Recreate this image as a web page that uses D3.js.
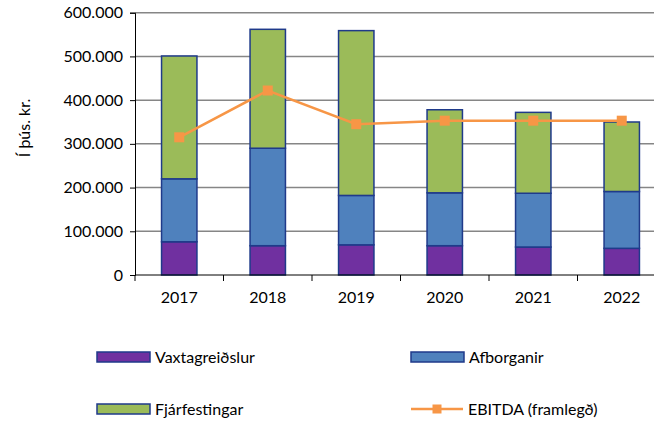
<!DOCTYPE html>
<html>
<head>
<meta charset="utf-8">
<script src="https://cdn.jsdelivr.net/npm/d3@7"></script>
<style>
  body { margin: 0; background: #fff; }
  text { font-family: Lato, "Open Sans", sans-serif; fill: #000; }
</style>
</head>
<body>
<div id="chart"></div>
<script>
// data (þús. kr.)
const years = ['2017', '2018', '2019', '2020', '2021', '2022'];
const vaxtagreidslur = [76000, 67000, 69000, 67000, 64000, 61000];
const afborganir = [144000, 223000, 113000, 121000, 123000, 130000];
const fjarfestingar = [281000, 272000, 377000, 190000, 185000, 159000];
const ebitda = [315000, 422000, 345000, 353000, 353000, 353000];
const yTicks = [0, 100000, 200000, 300000, 400000, 500000, 600000];

const seriesNames = ['Vaxtagreiðslur', 'Afborganir', 'Fjárfestingar'];
const colors = ['#7030A0', '#4F81BD', '#9BBB59'];
const edge = '#1F3A8A';
const orange = '#F79646';

const w = 654, h = 422;
const plotL = 135, plotR = 666, plotT = 12.7, plotB = 275;

const svg = d3.select('#chart').append('svg')
  .attr('width', w).attr('height', h);

const xScale = d3.scaleBand().domain(years).range([plotL, plotR]).paddingInner(0.6).paddingOuter(0.3);
const yScale = d3.scaleLinear().domain([0, 600000]).range([plotB, plotT]);

const fmt = v => v === 0 ? '0' : d3.format(',')(v).replace(/,/g, '.');

// gridlines
svg.append('g').selectAll('line')
  .data(yTicks.filter(d => d > 0))
  .enter().append('line')
  .attr('x1', plotL).attr('x2', plotR)
  .attr('y1', d => yScale(d)).attr('y2', d => yScale(d))
  .style('stroke', '#868686').style('stroke-width', 1.5);

// stacked bars
const table = years.map((y, i) => ({
  year: y,
  Vaxtagreiðslur: vaxtagreidslur[i],
  Afborganir: afborganir[i],
  Fjárfestingar: fjarfestingar[i]
}));
const stack = d3.stack().keys(seriesNames)(table);

svg.append('g').selectAll('g')
  .data(stack)
  .enter().append('g')
  .style('fill', (d, i) => colors[i])
  .selectAll('rect')
  .data(d => d)
  .enter().append('rect')
  .attr('x', d => xScale(d.data.year))
  .attr('width', xScale.bandwidth())
  .attr('y', d => yScale(d[1]))
  .attr('height', d => yScale(d[0]) - yScale(d[1]))
  .style('stroke', edge).style('stroke-width', 1.5);

// axes
const yAxis = d3.axisLeft(yScale).tickValues(yTicks).tickFormat(fmt).tickSize(5).tickPadding(7);
const yG = svg.append('g').attr('transform', `translate(${plotL},0)`).call(yAxis);
yG.select('.domain').style('stroke', '#000').style('stroke-width', 1);
yG.selectAll('.tick line').style('stroke', '#000');
yG.selectAll('text').style('font-size', '16px').style('font-family', 'Lato, sans-serif');

const xG = svg.append('g').attr('transform', `translate(0,${plotB})`);
xG.append('line').attr('x1', plotL).attr('x2', plotR).attr('y1', 0).attr('y2', 0)
  .style('stroke', '#000').style('stroke-width', 1);
const step = xScale.step();
const bandStart = xScale(years[0]) - xScale.paddingOuter() * step;
xG.selectAll('.xtick')
  .data(d3.range(years.length + 1))
  .enter().append('line')
  .attr('x1', i => bandStart + i * step).attr('x2', i => bandStart + i * step)
  .attr('y1', 0).attr('y2', 6)
  .style('stroke', '#000');
xG.selectAll('.xlabel')
  .data(years)
  .enter().append('text')
  .attr('x', d => xScale(d) + xScale.bandwidth() / 2)
  .attr('y', 28)
  .attr('text-anchor', 'middle')
  .style('font-size', '16px')
  .text(d => d);

// EBITDA line
const line = d3.line()
  .x((d, i) => xScale(years[i]) + xScale.bandwidth() / 2)
  .y(d => yScale(d));
svg.append('path').datum(ebitda)
  .attr('d', line)
  .style('fill', 'none').style('stroke', orange).style('stroke-width', 2.5);
svg.append('g').selectAll('rect')
  .data(ebitda)
  .enter().append('rect')
  .attr('x', (d, i) => xScale(years[i]) + xScale.bandwidth() / 2 - 5)
  .attr('y', d => yScale(d) - 5)
  .attr('width', 10).attr('height', 10)
  .style('fill', orange);

// y title
svg.append('text')
  .attr('transform', 'translate(30,128) rotate(-90)')
  .attr('text-anchor', 'middle')
  .style('font-size', '16px')
  .text('Í þús. kr.');

// legend
const legendItems = [
  { name: 'Vaxtagreiðslur', x: 97, y: 357, type: 'bar', color: colors[0] },
  { name: 'Afborganir', x: 411, y: 357, type: 'bar', color: colors[1] },
  { name: 'Fjárfestingar', x: 97, y: 409, type: 'bar', color: colors[2] },
  { name: 'EBITDA (framlegð)', x: 411, y: 409, type: 'line', color: orange }
];
const legend = svg.append('g').selectAll('g')
  .data(legendItems)
  .enter().append('g')
  .attr('transform', d => `translate(${d.x},${d.y})`);
legend.filter(d => d.type === 'bar').append('rect')
  .attr('x', 0).attr('y', -5).attr('width', 53).attr('height', 10)
  .style('fill', d => d.color).style('stroke', edge).style('stroke-width', 1.5);
legend.filter(d => d.type === 'line').append('line')
  .attr('x1', 0).attr('x2', 52).attr('y1', 0).attr('y2', 0)
  .style('stroke', orange).style('stroke-width', 2.5);
legend.filter(d => d.type === 'line').append('rect')
  .attr('x', 21.5).attr('y', -4.5).attr('width', 9).attr('height', 9)
  .style('fill', orange);
legend.append('text')
  .attr('x', d => d.type === 'line' ? 57 : 58).attr('y', 5.5)
  .style('font-size', '16px')
  .text(d => d.name);
</script>
</body>
</html>
